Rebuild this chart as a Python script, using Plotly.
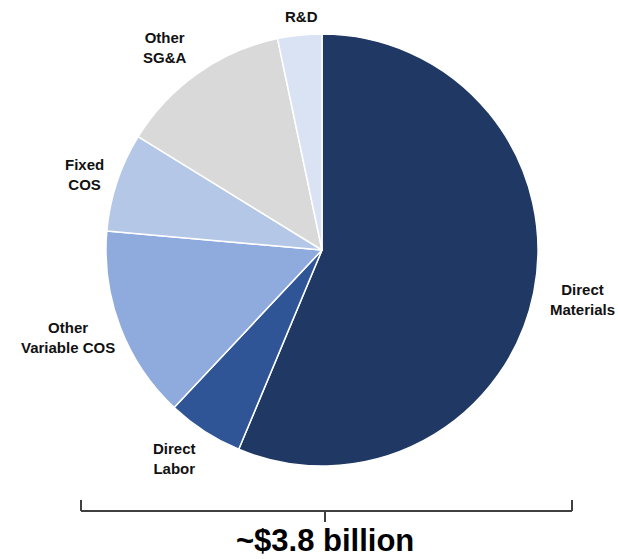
import plotly.graph_objects as go

categories = ["Direct Materials", "Direct Labor", "Other Variable COS", "Fixed COS", "Other SG&A", "R&D"]
shares = [56.3, 5.7, 14.4, 7.4, 12.9, 3.3]
colors = ["#203864", "#2F5597", "#8FAADC", "#B4C7E7", "#D9D9D9", "#DAE3F3"]
label_text = ["Direct<br>Materials", "Direct<br>Labor", "Other<br>Variable COS", "Fixed<br>COS", "Other<br>SG&A", "R&D"]
total_label = "~$3.8 billion"

W, H = 618, 559
cx, cy, r = 322, 250, 216

fig = go.Figure(go.Pie(
    labels=categories,
    values=shares,
    sort=False,
    direction="clockwise",
    rotation=0,
    marker=dict(colors=colors, line=dict(color="white", width=1.5)),
    textinfo="none",
    hoverinfo="label+percent",
    showlegend=False,
    domain=dict(x=[(cx - r) / W, (cx + r) / W], y=[1 - (cy + r) / H, 1 - (cy - r) / H]),
))

# label anchor positions (pixels)
label_pos = [(582, 299), (174, 458), (68, 337), (84, 174), (165, 47), (301, 17)]
font = dict(family="Liberation Sans, Arial, sans-serif", size=15, color="#111111")
annotations = []
for txt, (px, py) in zip(label_text, label_pos):
    annotations.append(dict(
        text="<b>" + txt + "</b>", x=px / W, y=1 - py / H, xref="paper", yref="paper",
        showarrow=False, align="center", font=font, xanchor="center", yanchor="middle"))

annotations.append(dict(
    text="<b>" + total_label + "</b>", x=325 / W, y=0, xref="paper", yref="paper",
    showarrow=False, borderpad=0,
    font=dict(family="Liberation Sans, Arial, sans-serif", size=31, color="#000000"),
    xanchor="center", yanchor="bottom"))

def px2paper(x, y):
    return x / W, 1 - y / H

line_style = dict(color="#404040", width=2)
segments = [((81, 511), (572, 511)), ((81, 511), (81, 500)), ((572, 511), (572, 500)), ((325, 511), (325, 522))]
shapes = []
for (x0, y0), (x1, y1) in segments:
    a = px2paper(x0, y0)
    b = px2paper(x1, y1)
    shapes.append(dict(type="line", xref="paper", yref="paper", x0=a[0], y0=a[1], x1=b[0], y1=b[1], line=line_style))

fig.update_layout(
    width=W, height=H,
    margin=dict(l=0, r=0, t=0, b=0),
    paper_bgcolor="white", plot_bgcolor="white",
    annotations=annotations, shapes=shapes,
)

fig.write_html("out.html")
